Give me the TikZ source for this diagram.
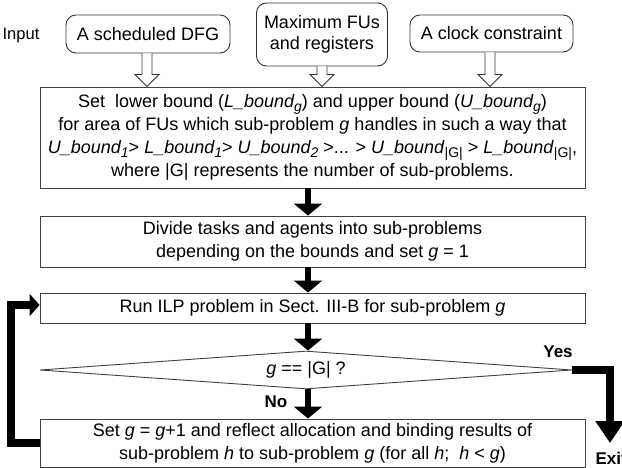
\documentclass[tikz,border=0pt]{standalone}
\usepackage{fontspec}
\setmainfont{Liberation Sans}
\usetikzlibrary{shapes.geometric,arrows.meta,calc}
\newcommand{\lowsub}[1]{\raisebox{-0.42ex}{\fontsize{14}{14}\selectfont #1}}
\begin{document}
\begin{tikzpicture}[x=1pt,y=-1pt,
  inbox/.style={draw=black!80,line width=0.9pt,rounded corners=10pt,align=center,inner sep=0pt,font=\fontsize{18}{21}\selectfont},
  stepbox/.style={draw=black!75,line width=0.9pt,minimum width=545pt,align=center,inner sep=0pt,font=\fontsize{18}{23}\selectfont},
  hollow/.style={draw=black!80,line width=0.9pt,fill=white},
  thick arrow/.style={line width=5.5pt,-{Triangle[width=28pt,length=12pt]}},
  loop line/.style={line width=7.5pt},
  lbl/.style={font=\fontsize{17}{20}\selectfont\bfseries}]
\useasboundingbox (0,0) rectangle (622,468);

\node (input) at (21,36) {\fontsize{16.5}{19}\selectfont Input};
\node[inbox,minimum width=164pt,minimum height=38pt] (dfg) at (148,34) {A scheduled DFG};
\node[inbox,minimum width=131pt,minimum height=63pt] (fus) at (322,34.5) {Maximum FUs\\and registers};
\node[inbox,minimum width=163pt,minimum height=37pt] (clk) at (491.5,33.5) {A clock constraint};

\node[stepbox,minimum height=101pt] (s1) at (312.5,137.5) {Set\ \ lower bound (\textit{L\_bound\lowsub{g}}) and upper bound (\textit{U\_bound\lowsub{g}})\\
for area of FUs which sub-problem \textit{g} handles in such a way that\\
\textit{U\_bound\lowsub{1}}> \textit{L\_bound\lowsub{1}}> \textit{U\_bound\lowsub{2}} >... > \textit{U\_bound}\lowsub{|G|} > \textit{L\_bound}\lowsub{|G|},\\
where |G| represents the number of sub-problems.};
\node[stepbox,minimum height=51pt] (s2) at (312.5,241.5) {Divide tasks and agents into sub-problems\\depending on the bounds and set \textit{g} = 1};
\node[stepbox,minimum height=30pt] (s3) at (312.5,308) {Run ILP problem in Sect. III-B for sub-problem \textit{g}};
\node[draw=black!75,line width=0.9pt,diamond,aspect=14,inner sep=0pt,minimum width=532pt,minimum height=38pt,font=\fontsize{18}{21}\selectfont] (dec) at (306,370) {\textit{g} == |G| ?};
\node[stepbox,minimum height=48pt] (s4) at (312.5,443) {Set \textit{g} = \textit{g}+1 and reflect allocation and binding results of\\sub-problem \textit{h} to sub-problem \textit{g} (for all \textit{h};\ \ \textit{h} < \textit{g})};

% hollow arrows
\foreach \src/\dx in {dfg/-1,fus/0,clk/-1.5}{
  \coordinate (t) at ($(s1.north -| \src.south)+(\dx,0)$);
  \coordinate (b) at ($(\src.south)+(\dx,0)$);
  \draw[hollow] ($(b)+(-5,0)$) -- ($(t)+(-5,-12)$) -- ($(t)+(-12,-12)$) -- (t)
     -- ($(t)+(12,-12)$) -- ($(t)+(5,-12)$) -- ($(b)+(5,0)$);
}

\coordinate (ax) at (308,0);
\draw[thick arrow] (s1.south -| ax) -- (s2.north -| ax);
\draw[thick arrow] (s2.south -| ax) -- (s3.north -| ax);
\draw[thick arrow] (s3.south -| ax) -- (dec.north -| ax);
\draw[thick arrow] (dec.south -| ax) -- (s4.north -| ax);

\coordinate (lx) at (11,0);
\coordinate (ly) at (0,305);
\draw[loop line,-{Triangle[width=22pt,length=10pt]}] (s4.west) -- (s4.west -| lx) -- (lx |- ly) -- (s3.west |- ly);

\coordinate (exitc) at (610,443);
\draw[loop line,-{Triangle[width=28pt,length=22pt]}] (dec.east) -| (exitc);

\node[lbl] (yes) at (558,352) {Yes};
\node[lbl] (no) at (276,402) {No};
\node[lbl,anchor=west] (exit) at (592,458) {Exit};
\end{tikzpicture}
\end{document}
